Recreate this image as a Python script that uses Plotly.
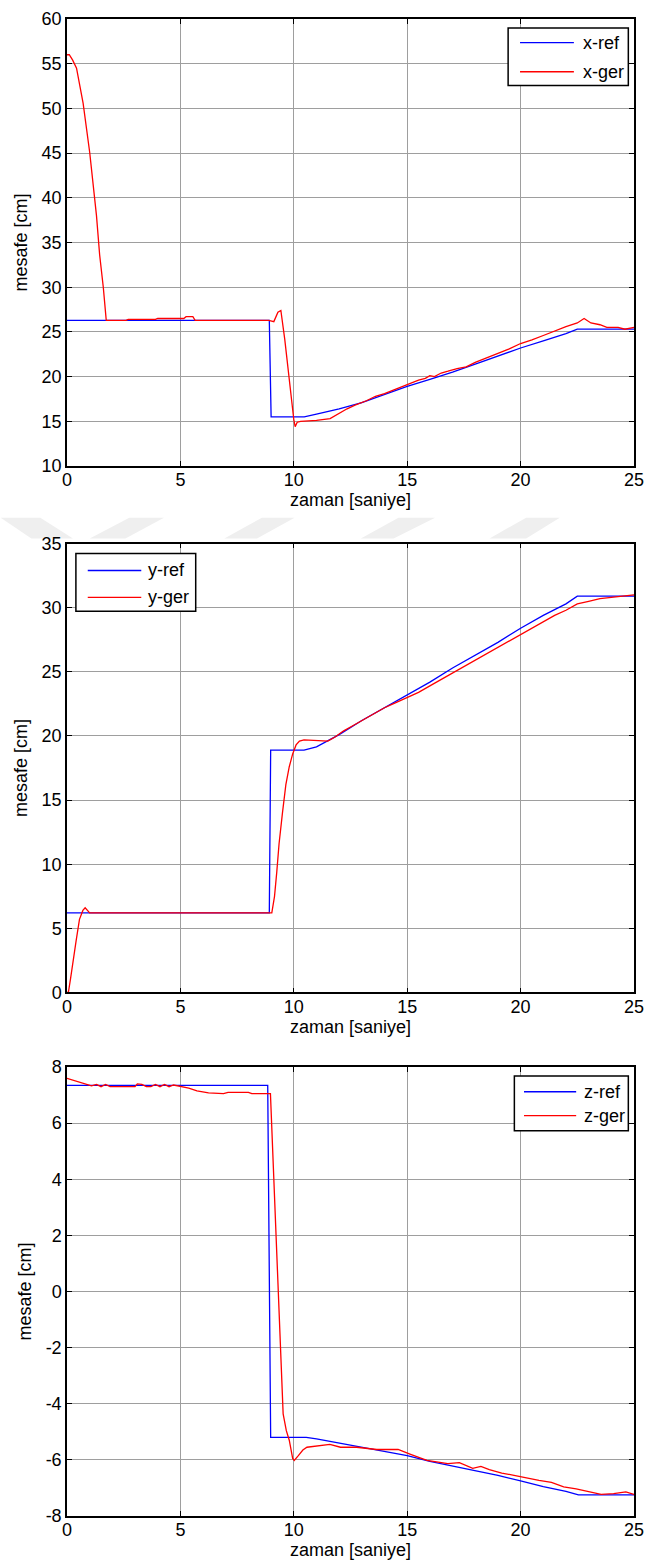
import plotly.graph_objects as go

# ---- x position: reference vs. measured ----
t_xref = [0, 8.92, 9.0, 10.46, 11.0, 12.0, 13.0, 14.0, 15.0, 16.0, 17.0, 18.0,
          19.0, 20.0, 21.0, 22.0, 22.5, 25.0]
x_ref = [26.3, 26.3, 15.5, 15.5, 15.8, 16.4, 17.1, 18.0, 18.9, 19.7, 20.5, 21.4,
         22.3, 23.2, 24.0, 24.8, 25.3, 25.3]

t_xger = [0, 0.1, 0.25, 0.42, 0.71, 1.0, 1.3, 1.44, 1.6, 1.73, 2.6, 2.7, 3.9, 4.0,
          5.15, 5.25, 5.55, 5.65, 8.9, 9.12, 9.3, 9.43, 9.6, 9.75, 9.9, 10.0, 10.06,
          10.15, 10.3, 10.6, 11.0, 11.6, 12.06, 12.35, 12.7, 13.2, 13.6, 14.0, 14.5,
          15.0, 15.5, 15.8, 16.0, 16.2, 16.5, 16.8, 17.2, 17.6, 18.0, 18.5, 19.0,
          19.5, 20.0, 20.5, 21.0, 21.5, 22.0, 22.5, 22.8, 23.1, 23.5, 23.8, 24.3,
          24.6, 24.9, 25.0]
x_ger = [56.0, 56.0, 55.4, 54.5, 50.6, 45.1, 38.0, 33.6, 30.0, 26.3, 26.3, 26.4,
         26.4, 26.5, 26.5, 26.7, 26.7, 26.3, 26.3, 26.15, 27.2, 27.4, 24.2, 20.6,
         17.2, 15.2, 14.4, 14.9, 15.0, 15.05, 15.1, 15.3, 16.0, 16.4, 16.8, 17.3,
         17.8, 18.1, 18.6, 19.1, 19.6, 19.8, 20.1, 20.0, 20.4, 20.6, 20.9, 21.1,
         21.6, 22.1, 22.6, 23.1, 23.7, 24.1, 24.6, 25.1, 25.6, 26.0, 26.5, 26.0,
         25.8, 25.5, 25.5, 25.3, 25.5, 25.5]

# ---- y position ----
t_yref = [0, 8.92, 8.98, 10.45, 11.0, 12.0, 13.0, 14.0, 15.0, 16.0, 17.0, 18.0,
          19.0, 20.0, 21.0, 22.0, 22.5, 25.0]
y_ref = [6.2, 6.2, 18.9, 18.9, 19.15, 20.1, 21.2, 22.2, 23.2, 24.2, 25.3, 26.3,
         27.3, 28.4, 29.4, 30.3, 30.9, 30.9]

t_yger = [0, 0.06, 0.15, 0.27, 0.4, 0.55, 0.7, 0.8, 0.9, 1.0, 9.03, 9.15, 9.25,
          9.35, 9.5, 9.65, 9.8, 9.95, 10.1, 10.25, 10.45, 10.8, 11.2, 11.5, 11.8,
          12.2, 12.6, 13.0, 13.5, 14.0, 14.5, 15.0, 15.5, 16.0, 16.5, 17.0, 17.5,
          18.0, 18.5, 19.0, 19.5, 20.0, 20.5, 21.0, 21.5, 22.0, 22.5, 23.0, 23.5,
          24.0, 24.5, 25.0]
y_ger = [0.0, 0.0, 1.0, 2.3, 4.0, 5.7, 6.4, 6.6, 6.4, 6.2, 6.2, 7.5, 9.4, 11.6,
         14.0, 16.2, 17.6, 18.6, 19.3, 19.6, 19.7, 19.65, 19.6, 19.6, 19.9, 20.4,
         20.8, 21.2, 21.7, 22.2, 22.6, 23.0, 23.4, 23.9, 24.4, 24.9, 25.4, 25.9,
         26.4, 26.9, 27.4, 27.9, 28.4, 28.9, 29.4, 29.8, 30.3, 30.5, 30.7, 30.8,
         30.9, 31.0]

# ---- z position ----
t_zref = [0, 8.85, 8.98, 10.55, 11.0, 12.0, 13.0, 14.0, 15.0, 16.0, 17.0, 18.0,
          19.0, 20.0, 21.0, 22.0, 22.55, 25.0]
z_ref = [7.35, 7.35, -5.2, -5.2, -5.25, -5.4, -5.55, -5.7, -5.85, -6.05, -6.22,
         -6.4, -6.55, -6.75, -6.95, -7.12, -7.25, -7.25]

t_zger = [0, 0.3, 0.64, 1.08, 1.3, 1.5, 1.7, 1.9, 2.1, 3.0, 3.1, 3.3, 3.5, 3.7,
          3.9, 4.1, 4.3, 4.5, 4.7, 5.0, 5.37, 5.73, 6.24, 6.9, 7.1, 8.0, 8.15, 8.97,
          9.39, 9.53, 9.67, 9.8, 9.95, 10.02, 10.2, 10.4, 10.58, 11.13,
          11.59, 12.06, 12.77, 13.66, 14.6, 15.15, 15.51, 15.87, 16.79, 17.3, 17.89,
          18.25, 18.62, 19.17, 19.71, 20.26, 20.81, 21.36, 21.9, 22.45, 23.0, 23.55,
          24.1, 24.64, 25.0]
z_ger = [7.6, 7.52, 7.45, 7.33, 7.38, 7.3, 7.38, 7.3, 7.3, 7.3, 7.4, 7.38, 7.3,
         7.3, 7.38, 7.3, 7.38, 7.3, 7.36, 7.3, 7.25, 7.15, 7.08, 7.05, 7.1, 7.1,
         7.05, 7.05, -1.8, -4.36, -4.96, -5.3, -5.95, -6.02, -5.85,
         -5.65, -5.55, -5.5, -5.45, -5.55, -5.55, -5.63, -5.63, -5.8, -5.9, -6.02,
         -6.13, -6.1, -6.3, -6.23, -6.35, -6.47, -6.55, -6.65, -6.73, -6.8, -6.96,
         -7.03, -7.14, -7.23, -7.2, -7.14, -7.23]

x_ticks = [0, 5, 10, 15, 20, 25]
y_ticks_x = [10, 15, 20, 25, 30, 35, 40, 45, 50, 55, 60]
y_ticks_y = [0, 5, 10, 15, 20, 25, 30, 35]
y_ticks_z = [-8, -6, -4, -2, 0, 2, 4, 6, 8]

BLUE = "#0000ff"
RED = "#ff0000"
FONT = "Liberation Sans, Arial, sans-serif"
FS = 18

panels = [
    # (suffix, t_ref, ref, t_ger, ger, names, y-range, y ticks, domain, legend box)
    ("", t_xref, x_ref, t_xger, x_ger, ("x-ref", "x-ger"), [10, 60], y_ticks_x,
     [0.7014, 1.0], dict(x0=0.778, x1=0.990, y0=0.851, y1=0.980, lx0=0.799,
                         lx1=0.894, tx=0.906, r1=0.947, r2=0.882)),
    ("2", t_yref, y_ref, t_yger, y_ger, ("y-ref", "y-ger"), [0, 35], y_ticks_y,
     [0.3497, 0.6496], dict(x0=0.0157, x1=0.227, y0=0.849, y1=0.978, lx0=0.0366,
                            lx1=0.131, tx=0.139, r1=0.940, r2=0.880)),
    ("3", t_zref, z_ref, t_zger, z_ger, ("z-ref", "z-ger"), [-8, 8], y_ticks_z,
     [0.0, 0.2999], dict(x0=0.789, x1=0.990, y0=0.858, y1=0.980, lx0=0.806,
                         lx1=0.898, tx=0.909, r1=0.945, r2=0.892)),
]

fig = go.Figure()
shapes = []
annotations = []
layout = {}

for suf, tr, vr, tg, vg, names, yr, yt, dom, lg in panels:
    xa, ya = "x" + suf, "y" + suf
    fig.add_trace(go.Scatter(x=tr, y=vr, mode="lines", name=names[0],
                             line=dict(color=BLUE, width=1.3),
                             xaxis=xa, yaxis=ya, showlegend=False))
    fig.add_trace(go.Scatter(x=tg, y=vg, mode="lines", name=names[1],
                             line=dict(color=RED, width=1.3),
                             xaxis=xa, yaxis=ya, showlegend=False))
    axis_common = dict(
        showline=True, linecolor="black", linewidth=1.5, mirror="ticks",
        ticks="inside", ticklen=5, tickwidth=1, tickcolor="black",
        showgrid=True, gridcolor="#9e9e9e", gridwidth=1, zeroline=False,
        tickfont=dict(family=FONT, size=FS, color="black"),
    )
    layout["xaxis" + suf] = dict(
        axis_common, range=[0, 25], tickvals=x_ticks,
        ticktext=[str(v) for v in x_ticks], domain=[0, 1], anchor=ya,
        ticklabelstandoff=-3,
        title=dict(text="zaman [saniye]", standoff=3,
                   font=dict(family=FONT, size=FS, color="black")),
    )
    # plain hyphen-minus in the tick labels
    layout["yaxis" + suf] = dict(
        axis_common, range=yr, tickvals=yt, ticktext=[str(v) for v in yt],
        domain=dom, anchor=xa,
        title=dict(text="mesafe [cm]", standoff=9,
                   font=dict(family=FONT, size=FS, color="black")),
    )
    # legend box drawn in axis-domain coordinates
    xd, yd = xa + " domain", ya + " domain"
    shapes.append(dict(type="rect", xref=xd, yref=yd, x0=lg["x0"], x1=lg["x1"],
                       y0=lg["y0"], y1=lg["y1"], line=dict(color="black", width=1.5),
                       fillcolor="white", layer="above"))
    for row, col, name in ((lg["r1"], BLUE, names[0]), (lg["r2"], RED, names[1])):
        shapes.append(dict(type="line", xref=xd, yref=yd, x0=lg["lx0"], x1=lg["lx1"],
                           y0=row, y1=row, line=dict(color=col, width=1.3),
                           layer="above"))
        annotations.append(dict(xref=xd, yref=yd, x=lg["tx"], y=row, text=name,
                                showarrow=False, xanchor="left", yanchor="middle",
                                font=dict(family=FONT, size=FS, color="black")))

# faint background chevrons between the first two panels
def px_to_paper_x(px):
    return (px - 67) / 573.0

def px_to_paper_y(py):
    return (1516 - py) / 1507.0

chevrons = [
    # (top-left, top-right, bottom-right, bottom-left) in page pixels
    ((0, 511), (40, 511), (73, 532), (31, 532)),
    ((130, 511), (165, 511), (126, 532), (90, 532)),
    ((264, 511), (297, 511), (259, 532), (226, 532)),
    ((402, 511), (439, 511), (397, 532), (364, 532)),
    ((531, 511), (565, 511), (531, 532), (494, 532)),
]
for pts in chevrons:
    path = "M " + " L ".join(f"{px_to_paper_x(a):.4f},{px_to_paper_y(b):.4f}"
                             for a, b in pts) + " Z"
    shapes.append(dict(type="path", xref="paper", yref="paper", path=path,
                       fillcolor="#efefef", line=dict(width=0), layer="below"))

fig.update_layout(
    **layout,
    width=653, height=1568,
    margin=dict(l=67, r=13, t=9, b=52),
    paper_bgcolor="white", plot_bgcolor="white",
    font=dict(family=FONT, size=FS, color="black"),
    shapes=shapes, annotations=annotations,
    showlegend=False,
)

fig.write_html("out.html")
